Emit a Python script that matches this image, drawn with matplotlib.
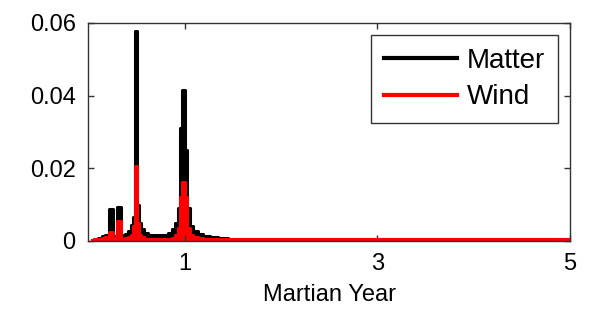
import matplotlib.pyplot as plt

# Periodogram (period in Martian years)
period = [0.04, 0.08, 0.12, 0.16, 0.19, 0.24, 0.28, 0.315, 0.36, 0.40,
          0.43, 0.455, 0.475, 0.495, 0.515, 0.535, 0.56, 0.60, 0.65, 0.70,
          0.75, 0.80, 0.85, 0.89, 0.92, 0.945, 0.965, 0.99, 1.015, 1.04,
          1.07, 1.11, 1.16, 1.22, 1.30, 1.40, 1.50, 1.65, 1.80, 2.00,
          2.20, 2.50, 2.80, 3.20, 3.60, 4.00, 4.50, 5.00]
matter = [0.0003, 0.0005, 0.0008, 0.0012, 0.0016, 0.0088, 0.0012, 0.0094, 0.0016, 0.0018,
          0.0028, 0.0045, 0.0066, 0.0578, 0.0100, 0.0050, 0.0032, 0.0022, 0.0017, 0.0015,
          0.0015, 0.0017, 0.0022, 0.0032, 0.0050, 0.0090, 0.0310, 0.0415, 0.0250, 0.0090,
          0.0042, 0.0026, 0.0018, 0.0013, 0.0010, 0.0008, 0.0006, 0.0005, 0.0004, 0.0004,
          0.0004, 0.0004, 0.0004, 0.0004, 0.0004, 0.0004, 0.0004, 0.0004]
wind = [0.0002, 0.0004, 0.0006, 0.0008, 0.0010, 0.0025, 0.0008, 0.0055, 0.0006, 0.0007,
        0.0010, 0.0017, 0.0040, 0.0205, 0.0050, 0.0017, 0.0010, 0.0006, 0.0005, 0.0005,
        0.0005, 0.0005, 0.0006, 0.0009, 0.0017, 0.0035, 0.0120, 0.0163, 0.0120, 0.0035,
        0.0017, 0.0010, 0.0008, 0.0006, 0.0005, 0.0005, 0.0004, 0.0004, 0.0005, 0.0004,
        0.0005, 0.0004, 0.0005, 0.0004, 0.0005, 0.0004, 0.0005, 0.0004]
xticks = [1, 3, 5]
yticks = [0, 0.02, 0.04, 0.06]

plt.rcParams['font.family'] = ['Liberation Sans', 'DejaVu Sans']

fig = plt.figure(figsize=(5.92, 3.22), dpi=100)
ax = fig.add_axes([0.149, 0.252, 0.814, 0.677])

# thick MATLAB-style traces: filled under the step line so narrow peaks read solid
ax.fill_between(period, 0, matter, step='mid', color='black', lw=0)
ax.plot(period, matter, color='black', lw=2.2, drawstyle='steps-mid', label='Matter')
ax.fill_between(period, 0, wind, step='mid', color='red', lw=0)
ax.plot(period, wind, color='red', lw=2.2, drawstyle='steps-mid', label='Wind')

ax.set_xlim(0, 5)
ax.set_ylim(0, 0.06)
ax.set_xticks(xticks)
ax.set_xticklabels([str(t) for t in xticks])
ax.set_yticks(yticks)
ax.set_yticklabels(['0', '0.02', '0.04', '0.06'])
ax.tick_params(direction='in', length=4, width=1, top=True, right=True,
               labelsize=17, pad=9, colors='#333333', labelcolor='black')
for s in ax.spines.values():
    s.set_color('#333333')
    s.set_linewidth(1)

ax.set_xlabel('Martian Year', fontsize=17, labelpad=6)

leg = ax.legend(loc='upper right', fontsize=20, handlelength=2.65, handletextpad=0.35,
                borderpad=0.45, labelspacing=0.38, fancybox=False, framealpha=1,
                edgecolor='#333333', borderaxespad=0.45)
leg.get_frame().set_linewidth(1)
for line in leg.get_lines():
    line.set_linewidth(3)

fig.savefig('out.png', dpi=100)
